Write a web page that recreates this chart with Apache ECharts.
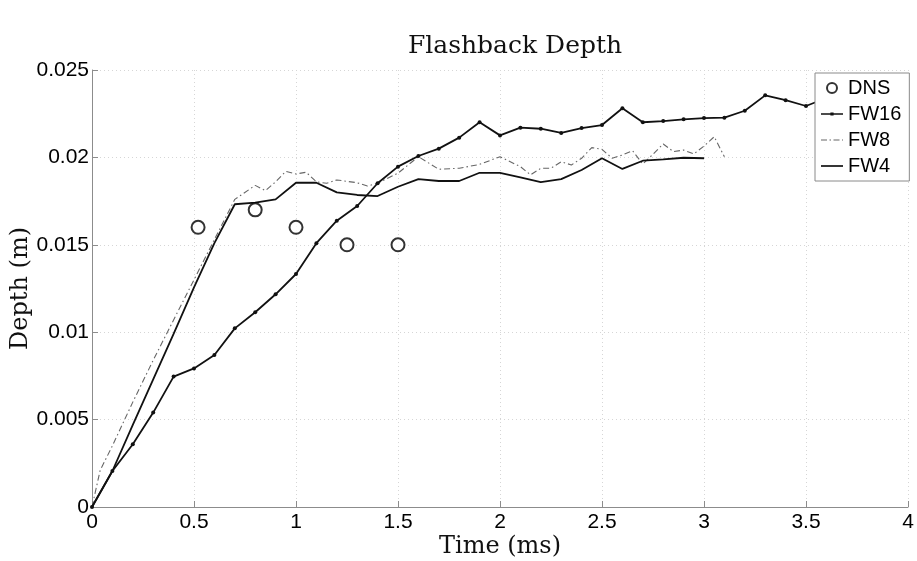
<!DOCTYPE html>
<html>
<head>
<meta charset="utf-8">
<title>Flashback Depth</title>
<script src="https://cdn.jsdelivr.net/npm/echarts@6/dist/echarts.min.js"></script>
<style>
  html, body { margin: 0; padding: 0; background: #fff; }
  #chart { width: 917px; height: 561px; }
</style>
</head>
<body>
<div id="chart"></div>
<script>
// Flashback depth (m) against time (ms)
const dnsTime = [0.52, 0.8, 1.0, 1.25, 1.5];
const dnsDepth = [0.0160, 0.0170, 0.0160, 0.0150, 0.0150];

const fw16Time = [0, 0.1, 0.2, 0.3, 0.4, 0.5, 0.6, 0.7, 0.8, 0.9, 1.0, 1.1, 1.2, 1.3, 1.4, 1.5,
  1.6, 1.7, 1.8, 1.9, 2.0, 2.1, 2.2, 2.3, 2.4, 2.5, 2.6, 2.7, 2.8, 2.9, 3.0, 3.1, 3.2, 3.3, 3.4, 3.5, 3.6];
const fw16Depth = [0, 0.00206, 0.00359, 0.0054, 0.00746, 0.00793, 0.0087, 0.01022, 0.01114, 0.01217,
  0.01333, 0.01509, 0.01638, 0.01722, 0.01852, 0.01947, 0.02008, 0.0205, 0.02113, 0.02201, 0.02126,
  0.0217, 0.02164, 0.0214, 0.02168, 0.02185, 0.02281, 0.02201, 0.02208, 0.02218, 0.02225, 0.02227,
  0.02267, 0.02355, 0.02327, 0.02294, 0.0234];

const fw8Time = [0, 0.04, 0.1, 0.2, 0.3, 0.4, 0.5, 0.6, 0.7, 0.8, 0.85, 0.9, 0.95, 1.0, 1.05, 1.1,
  1.15, 1.2, 1.3, 1.35, 1.4, 1.5, 1.6, 1.7, 1.8, 1.9, 2.0, 2.1, 2.15, 2.2, 2.25, 2.3, 2.35, 2.4,
  2.45, 2.5, 2.55, 2.6, 2.65, 2.7, 2.75, 2.8, 2.85, 2.9, 2.95, 3.0, 3.05, 3.1];
const fw8Depth = [0, 0.0021, 0.0035, 0.0060, 0.0084, 0.0107, 0.0130, 0.0153, 0.0176, 0.0184, 0.0181,
  0.0186, 0.0192, 0.01905, 0.01915, 0.0186, 0.01852, 0.01871, 0.01855, 0.01836, 0.01852, 0.0191,
  0.02004, 0.01932, 0.01938, 0.0196, 0.02004, 0.01947, 0.0190, 0.01938, 0.01938, 0.01975, 0.01957,
  0.01995, 0.02056, 0.02046, 0.01995, 0.02014, 0.02038, 0.01962, 0.02018, 0.02077, 0.02033, 0.02042,
  0.0202, 0.02065, 0.02118, 0.02004];

const fw4Time = [0, 0.1, 0.2, 0.3, 0.4, 0.5, 0.6, 0.7, 0.8, 0.9, 1.0, 1.1, 1.2, 1.3, 1.4, 1.5,
  1.6, 1.7, 1.8, 1.9, 2.0, 2.1, 2.2, 2.3, 2.4, 2.5, 2.6, 2.7, 2.8, 2.9, 3.0];
const fw4Depth = [0, 0.00206, 0.0047, 0.0073, 0.0099, 0.01256, 0.0151, 0.01732, 0.01741, 0.0176,
  0.01855, 0.01855, 0.0180, 0.01785, 0.01779, 0.01832, 0.01876, 0.01865, 0.01865, 0.01912, 0.01912,
  0.01886, 0.01858, 0.01876, 0.01928, 0.01995, 0.01934, 0.01981, 0.01989, 0.01998, 0.01995];

const xTicks = [0, 0.5, 1, 1.5, 2, 2.5, 3, 3.5, 4];

const pairs = (xs, ys) => xs.map((x, i) => [x, ys[i]]);

const serif = '"DejaVu Serif", "Liberation Serif", serif';
const sans = '"Liberation Sans", Arial, sans-serif';

// Legend glyphs: line with a dot, dash-dot line, plain line
const iconLineDot = 'path://M0,4.2H22V5.8H0Z M9.4,3.4H12.6V6.6H9.4Z';
const iconDashDot = 'path://M0,0H6V1.2H0Z M8.5,0H10V1.2H8.5Z M12.5,0H18.5V1.2H12.5Z M21,0H22V1.2H21Z';
const iconLine = 'path://M0,0H22V1.7H0Z';

const chart = echarts.init(document.getElementById('chart'), null, { renderer: 'canvas' });

chart.setOption({
  animation: false,
  backgroundColor: '#ffffff',
  title: {
    text: 'Flashback Depth',
    left: 510,
    textAlign: 'center',
    top: 29,
    textStyle: { fontFamily: serif, fontSize: 25, fontWeight: 'normal', color: '#111' }
  },
  legend: {
    orient: 'vertical',
    left: 815,
    top: 73,
    padding: [5, 8, 5, 6],
    itemGap: 6,
    itemWidth: 22,
    itemHeight: 10,
    symbolKeepAspect: true,
    backgroundColor: '#ffffff',
    borderColor: '#8a8a8a',
    borderWidth: 1,
    borderRadius: 0,
    textStyle: { fontFamily: sans, fontSize: 20, color: '#000' },
    data: [
      { name: 'DNS', icon: 'emptyCircle' },
      { name: 'FW16', icon: iconLineDot },
      { name: 'FW8', icon: iconDashDot },
      { name: 'FW4', icon: iconLine }
    ]
  },
  grid: {
    left: 92,
    right: 9,
    top: 70,
    bottom: 54,
    containLabel: false,
    outerBoundsMode: 'none'
  },
  xAxis: {
    type: 'value',
    min: 0,
    max: 4,
    interval: 0.5,
    name: 'Time (ms)',
    nameLocation: 'middle',
    nameGap: 28,
    nameMoveOverlap: false,
    nameTextStyle: { fontFamily: serif, fontSize: 24, color: '#111' },
    axisLine: { show: true, onZero: false, lineStyle: { color: '#8c8c8c', width: 1 } },
    axisTick: { show: true, inside: true, length: 6, lineStyle: { color: '#8c8c8c' } },
    axisLabel: {
      fontFamily: sans, fontSize: 21, color: '#000', margin: 5,
      customValues: xTicks,
      formatter: v => String(v)
    },
    splitLine: { show: true, lineStyle: { color: '#d6d6d6', type: [1, 3], width: 1 } }
  },
  yAxis: {
    type: 'value',
    min: 0,
    max: 0.025,
    interval: 0.005,
    name: 'Depth (m)',
    nameLocation: 'middle',
    nameGap: 59,
    nameMoveOverlap: false,
    nameTextStyle: { fontFamily: serif, fontSize: 24, color: '#111' },
    axisLine: { show: true, onZero: false, lineStyle: { color: '#8c8c8c', width: 1 } },
    axisTick: { show: true, inside: true, length: 6, lineStyle: { color: '#8c8c8c' } },
    axisLabel: {
      fontFamily: sans, fontSize: 21, color: '#000', margin: 3,
      formatter: v => String(Math.round(v * 1000) / 1000)
    },
    splitLine: { show: true, lineStyle: { color: '#d6d6d6', type: [1, 3], width: 1 } }
  },
  series: [
    {
      name: 'DNS',
      type: 'scatter',
      data: pairs(dnsTime, dnsDepth),
      symbol: 'emptyCircle',
      symbolSize: 13,
      itemStyle: { color: '#000', borderColor: '#000', borderWidth: 2.4 },
      z: 5
    },
    {
      name: 'FW16',
      type: 'line',
      data: pairs(fw16Time, fw16Depth),
      symbol: 'circle',
      symbolSize: 4,
      showSymbol: true,
      itemStyle: { color: '#111' },
      lineStyle: { color: '#111', width: 1.8 },
      z: 3
    },
    {
      name: 'FW8',
      type: 'line',
      data: pairs(fw8Time, fw8Depth),
      symbol: 'none',
      itemStyle: { color: '#666' },
      lineStyle: { color: '#666', width: 1.1, type: [6, 3, 1.5, 3] },
      z: 2
    },
    {
      name: 'FW4',
      type: 'line',
      data: pairs(fw4Time, fw4Depth),
      symbol: 'none',
      itemStyle: { color: '#111' },
      lineStyle: { color: '#111', width: 1.8 },
      z: 2
    }
  ]
});
</script>
</body>
</html>
